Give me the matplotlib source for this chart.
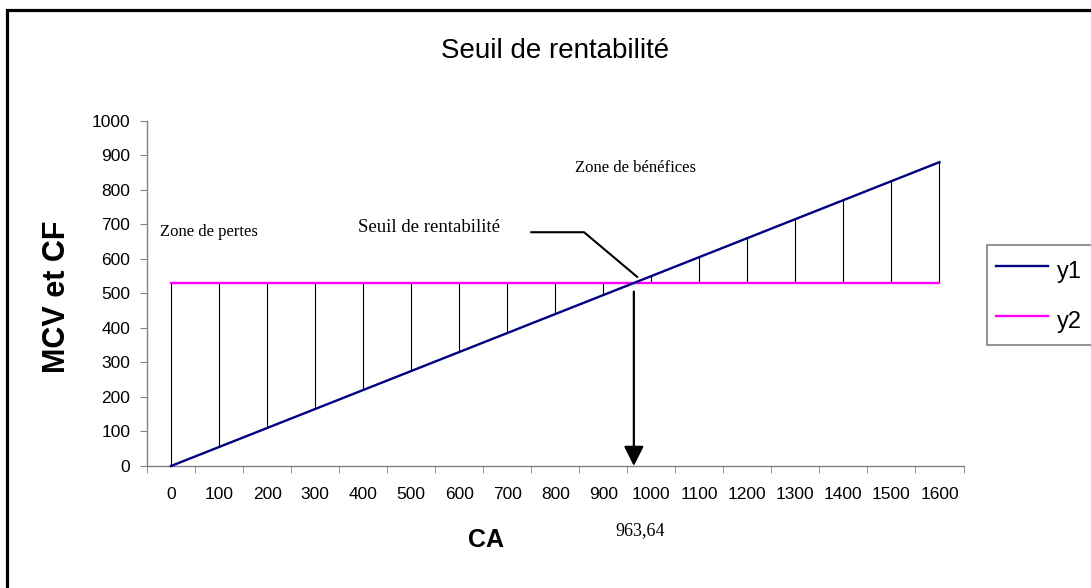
import numpy as np
import matplotlib
matplotlib.use("Agg")
import matplotlib.pyplot as plt
from matplotlib.patches import Rectangle, FancyArrowPatch

# donnees : chiffre d'affaires, marge sur couts variables (y1) et couts fixes (y2)
ca = [0, 100, 200, 300, 400, 500, 600, 700, 800, 900, 1000, 1100, 1200, 1300, 1400, 1500, 1600]
y1 = [0, 55, 110, 165, 220, 275, 330, 385, 440, 495, 550, 605, 660, 715, 770, 825, 880]
y2 = [530, 530, 530, 530, 530, 530, 530, 530, 530, 530, 530, 530, 530, 530, 530, 530, 530]
seuil = 963.64
y_ticks = [0, 100, 200, 300, 400, 500, 600, 700, 800, 900, 1000]

W, H = 1091, 588
sans = "Liberation Sans"
serif = "Liberation Serif"
grey = "#808080"

fig = plt.figure(figsize=(W / 100, H / 100), dpi=100)
fig.patch.set_facecolor("white")

# cadre de la zone de graphique (coupe a droite et en bas)
fig.patches.append(Rectangle((6.5 / W, -0.1), 1.2, 1.1 - 9.5 / H, transform=fig.transFigure,
                             fill=False, edgecolor="black", lw=2.3))

ax = fig.add_axes([147 / W, 1 - 466 / H, 816.5 / W, 345.3 / H])
idx = np.arange(len(ca))

# lignes de rappel entre les deux series
ax.vlines(idx, y1, y2, colors="black", lw=0.8, zorder=1)
ax.plot(idx, y1, color="#000080", lw=1.7, label="y1", zorder=3, clip_on=False)
ax.plot(idx, y2, color="#FF00FF", lw=1.7, label="y2", zorder=2, clip_on=False)

ax.set_xlim(-0.5, len(ca) - 0.5)
ax.set_ylim(0, 1000)

for s in ["top", "right"]:
    ax.spines[s].set_visible(False)
for s in ["left", "bottom"]:
    ax.spines[s].set_color(grey)
    ax.spines[s].set_linewidth(1.0)

ax.set_xticks(idx, [str(v) for v in ca])
ax.set_xticks(np.arange(-0.5, len(ca), 1), minor=True)
ax.tick_params(axis="x", which="major", length=0, pad=15, labelsize=12.5)
ax.tick_params(axis="x", which="minor", length=5, color=grey, direction="out")
ax.set_yticks(y_ticks, [str(v) for v in y_ticks])
ax.tick_params(axis="y", length=5, color=grey, pad=7, labelsize=12.5)
for lab in ax.get_xticklabels() + ax.get_yticklabels():
    lab.set_fontfamily(sans)

ax.set_title("Seuil de rentabilité", fontfamily=sans, fontsize=20, pad=45)
ax.set_xlabel("CA", fontfamily=sans, fontsize=18, fontweight="bold")
ax.xaxis.set_label_coords((486 - 147) / 816.5, (466 - 540) / 345.3)
ax.xaxis.label.set_va("center")
ax.set_ylabel("MCV et CF", fontfamily=sans, fontsize=22, fontweight="bold")
ax.yaxis.set_label_coords((56.7 - 147) / 816.5, 0.49)
ax.yaxis.label.set_va("center")

# textes d'annotation
ax.text(0.79, 677, "Zone de pertes", fontfamily=serif, fontsize=12, ha="center", va="center")
ax.text(9.68, 862, "Zone de bénéfices", fontfamily=serif, fontsize=12, ha="center", va="center")
ax.text(5.38, 690, "Seuil de rentabilité", fontfamily=serif, fontsize=13.5, ha="center", va="center")
ax.text(9.76, -188, "963,64", fontfamily=serif, fontsize=13, ha="center", va="center", clip_on=False)

# trait vers le point mort
ax.plot([7.48, 8.60, 9.72], [677, 677, 546], color="black", lw=1.5, solid_capstyle="butt")

# fleche vers l'axe des abscisses
arr = FancyArrowPatch((seuil / 100, 505), (seuil / 100, 0), arrowstyle="-|>,head_length=1.0,head_width=0.5",
                      mutation_scale=12, color="black", lw=1.6, shrinkA=0, shrinkB=0, zorder=4, clip_on=False)
ax.add_patch(arr)

leg = ax.legend(loc="upper left", bbox_to_anchor=(986.7 / W, 1 - 245 / H), bbox_transform=fig.transFigure,
                frameon=True, fancybox=False, edgecolor=grey, framealpha=1, borderaxespad=0,
                prop={"family": sans, "size": 17}, handlelength=2.2, handletextpad=0.38,
                borderpad=0.4, handleheight=1.7, labelspacing=0.75)
leg.get_frame().set_linewidth(1.2)

fig.savefig("out.png", dpi=100)
